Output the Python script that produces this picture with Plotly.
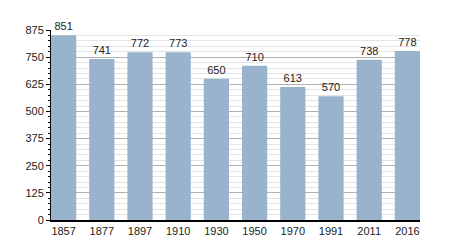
import plotly.graph_objects as go

years = ["1857", "1877", "1897", "1910", "1930", "1950", "1970", "1991", "2011", "2016"]
population = [851, 741, 772, 773, 650, 710, 613, 570, 738, 778]
y_ticks = [0, 125, 250, 375, 500, 625, 750, 875]

fig = go.Figure(go.Bar(
    x=years, y=population, width=0.66,
    marker=dict(color="#9ab3cd", line=dict(width=0)),
    text=[str(v) for v in population], textposition="outside",
    textfont=dict(size=11, color="#222", family="Liberation Sans, Arial"),
    cliponaxis=False,
))

fig.update_layout(
    width=450, height=250,
    margin=dict(l=50.5, r=29.5, t=30, b=30),
    paper_bgcolor="white", plot_bgcolor="white",
    showlegend=False,
    font=dict(family="Liberation Sans, Arial", size=11, color="#222"),
    bargap=0.34,
)
fig.update_xaxes(
    type="category", range=[-0.33, 9.33],
    showline=True, linecolor="black", linewidth=1.5,
    ticks="", showgrid=False, tickfont=dict(size=11),
)
fig.update_yaxes(
    range=[0, 875], tickvals=y_ticks,
    showline=True, linecolor="black", linewidth=1,
    ticks="outside", ticklen=4, tickcolor="black",
    showgrid=True, gridcolor="#b0b0b0", gridwidth=1,
    zeroline=False, tickfont=dict(size=11),
    minor=dict(dtick=25, tick0=0, ticks="outside", ticklen=2, tickcolor="black",
               showgrid=True, gridcolor="#e4e4e4", gridwidth=1),
)

fig.write_html("out.html")
